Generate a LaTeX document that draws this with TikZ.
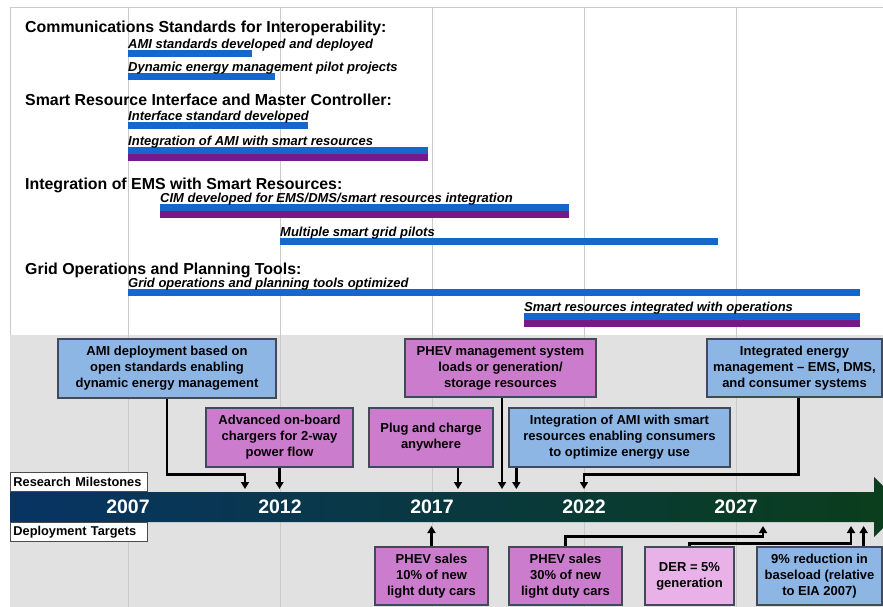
\documentclass[tikz,border=0pt]{standalone}
\usepackage{fontspec}
\setmainfont{Liberation Sans}
\usetikzlibrary{arrows.meta}

\definecolor{barblue}{RGB}{22,102,204}
\definecolor{barpurple}{RGB}{118,26,136}
\definecolor{boxblue}{RGB}{141,182,228}
\definecolor{boxpink}{RGB}{204,124,204}
\definecolor{boxlite}{RGB}{232,178,232}
\definecolor{boxedge}{RGB}{66,74,90}
\definecolor{bggrey}{RGB}{225,225,225}
\definecolor{gridgrey}{RGB}{202,202,202}
\definecolor{tlnavy}{RGB}{8,52,100}
\definecolor{tlgreen}{RGB}{10,62,26}

\begin{document}
\begin{tikzpicture}[x=1pt, y=-1pt,
        head/.style={anchor=base west, inner sep=0pt,
                     font=\fontsize{15.9}{18}\selectfont\bfseries},
        task/.style={anchor=base west, inner sep=0pt,
                     font=\fontsize{13}{15}\selectfont\bfseries\itshape},
        mbox/.style={draw=boxedge, line width=1.3pt, align=center, inner sep=2pt,
                     font=\fontsize{13}{16}\selectfont\bfseries},
        amibox/.style={mbox, fill=boxblue},
        phevbox/.style={mbox, fill=boxpink},
        derbox/.style={mbox, fill=boxlite},
        year/.style={text=white, font=\fontsize{19.5}{22}\selectfont\bfseries},
        tag/.style={draw=gray!60!black, fill=white, line width=0.8pt,
                    text width=131pt, inner xsep=3pt, inner ysep=3pt,
                    minimum height=19pt, align=left,
                    font=\fontsize{12.8}{14}\selectfont\bfseries},
        conn/.style={line width=2.6pt, -{Triangle[width=8pt,length=7pt]}},
      ]
        \path[use as bounding box] (0,0) rectangle (883,607);
        \clip (0,0) rectangle (883,607);
        \fill[white] (0,0) rectangle (883,607);
        \fill[bggrey] (10,335) rectangle (883,607);
        \draw[gridgrey] (10,7) -- (883,7);
        \draw[gridgrey] (10,7) -- (10,335);
        \foreach \gx in {128,280,432,584,736} {
          \draw[gridgrey, line width=1pt] (\gx,7) -- (\gx,607);
        }

        % research areas
        \node[head] (hcomm) at (25,33) {Communications Standards for Interoperability:};
        \node[head] (hsmart) at (25,106) {Smart Resource Interface and Master Controller:};
        \node[head] (hems) at (25,189) {Integration of EMS with Smart Resources:};
        \node[head] (hgrid) at (25,274) {Grid Operations and Planning Tools:};

        \foreach \xa/\xb/\yy in {128/252/50, 128/275/73, 128/308/122, 128/428/147,
                                 160/569/204, 280/718/238, 128/860/289, 524/860/313} {
          \fill[barblue] (\xa,\yy) rectangle (\xb,\yy+7);
        }
        \foreach \xa/\xb/\yy in {128/428/154, 160/569/211, 524/860/320} {
          \fill[barpurple] (\xa,\yy) rectangle (\xb,\yy+7);
        }

        \node[task] (tami) at (128,48.5) {AMI standards developed and deployed};
        \node[task] (tdyn) at (128,71.5) {Dynamic energy management pilot projects};
        \node[task] (tintf) at (128,120.5) {Interface standard developed};
        \node[task] (tamis) at (128,145.5) {Integration of AMI with smart resources};
        \node[task] (tcim) at (160,202.5) {CIM developed for EMS/DMS/smart resources integration};
        \node[task] (tpil) at (280,236.5) {Multiple smart grid pilots};
        \node[task] (tgrid) at (128,287.5) {Grid operations and planning tools optimized};
        \node[task] (tops) at (524,311.5) {Smart resources integrated with operations};

        % timeline
        \shade[left color=tlnavy, right color=tlgreen]
          (10,492) -- (874,492) -- (874,477) -- (905,507) -- (874,537)
          -- (874,522) -- (10,522) -- cycle;
        \foreach \yr/\gx in {2007/128,2012/280,2017/432,2022/584,2027/736} {
          \node[year] (y\yr) at (\gx,507) {\yr};
        }
        \node[tag, anchor=south west] (resm) at (10,492) {Research Milestones};
        \node[tag, anchor=north west] (dept) at (10,522) {Deployment Targets};

        % milestones
        \node[amibox, minimum width=218pt, minimum height=59pt] (amidep) at (167,368.5)
          {AMI deployment based on\\open standards enabling\\dynamic energy management};
        \node[phevbox, minimum width=147pt, minimum height=59pt] (chargers) at (279.5,437.5)
          {Advanced on-board\\chargers for 2-way\\power flow};
        \node[phevbox, minimum width=124pt, minimum height=59pt] (plug) at (431,437.5)
          {Plug and charge\\anywhere};
        \node[phevbox, minimum width=191pt, minimum height=58pt] (phevmgmt) at (500.5,368)
          {PHEV management system\\loads or generation/\\storage resources};
        \node[amibox, minimum width=221pt, minimum height=59pt] (amiint) at (619.5,437.5)
          {Integration of AMI with smart\\resources enabling consumers\\to optimize energy use};
        \node[amibox, minimum width=175pt, minimum height=58pt] (iem) at (794.5,368)
          {Integrated energy\\management -- EMS, DMS,\\and consumer systems};

        % targets
        \node[phevbox, minimum width=113pt, minimum height=58pt] (sales10) at (431.5,576)
          {PHEV sales\\10\% of new\\light duty cars};
        \node[phevbox, minimum width=113pt, minimum height=58pt] (sales30) at (565.5,576)
          {PHEV sales\\30\% of new\\light duty cars};
        \node[derbox, minimum width=89pt, minimum height=58pt] (der) at (689.5,576)
          {DER = 5\%\\generation};
        \node[amibox, minimum width=125pt, minimum height=58pt] (baseload) at (819.5,576)
          {9\% reduction in\\baseload (relative\\to EIA 2007)};

        \coordinate (tltop) at (0,489);
        \coordinate (tlbot) at (0,526);
        \coordinate (m245) at (245,489);
        \coordinate (d763) at (763,526);
        \coordinate (d851) at (851,526);

        \draw[conn] (amidep.south) -- ++(0,76) -| (m245);
        \draw[conn] (chargers.south) -- (chargers.south |- tltop);
        \draw[conn] ([xshift=27pt]plug.south) -- ([xshift=27pt]plug.south |- tltop);
        \draw[conn] ([xshift=1.5pt]phevmgmt.south) -- ([xshift=1.5pt]phevmgmt.south |- tltop);
        \draw[conn] ([xshift=8pt]amiint.south west) -- ([xshift=8pt]amiint.south west |- tltop);
        \draw[conn] ([xshift=4pt]iem.south) -- ++(0,77) -| (y2022 |- tltop);

        \draw[conn] (sales10.north) -- (sales10.north |- tlbot);
        \draw[conn] (sales30.north) -- ++(0,-10) -| (d763);
        \draw[conn] (der.north) -- ++(0,-3) -| (d851);
        \draw[conn] ([xshift=-19pt]baseload.north east) -- ([xshift=-19pt]baseload.north east |- tlbot);
      \end{tikzpicture}
\end{document}
